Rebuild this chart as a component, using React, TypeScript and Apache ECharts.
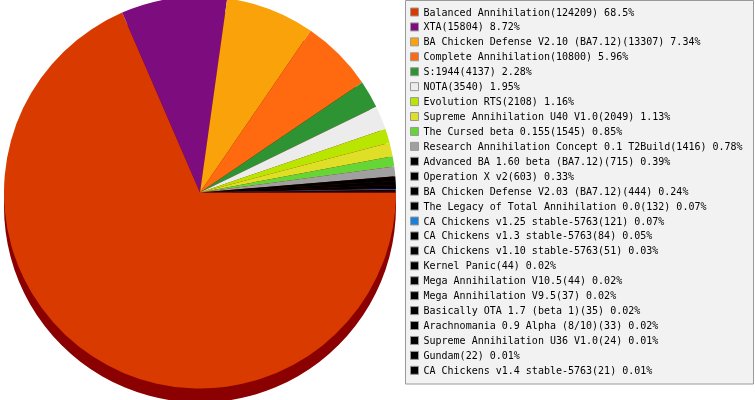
import React, { useEffect, useRef } from "react";
import * as echarts from "echarts";

const categories = [
  "Balanced Annihilation",
  "XTA",
  "BA Chicken Defense V2.10 (BA7.12)",
  "Complete Annihilation",
  "S:1944",
  "NOTA",
  "Evolution RTS",
  "Supreme Annihilation U40 V1.0",
  "The Cursed beta 0.155",
  "Research Annihilation Concept 0.1 T2Build",
  "Advanced BA 1.60 beta (BA7.12)",
  "Operation X v2",
  "BA Chicken Defense V2.03 (BA7.12)",
  "The Legacy of Total Annihilation 0.0",
  "CA Chickens v1.25 stable-5763",
  "CA Chickens v1.3 stable-5763",
  "CA Chickens v1.10 stable-5763",
  "Kernel Panic",
  "Mega Annihilation V10.5",
  "Mega Annihilation V9.5",
  "Basically OTA 1.7 (beta 1)",
  "Arachnomania 0.9 Alpha (8/10)",
  "Supreme Annihilation U36 V1.0",
  "Gundam",
  "CA Chickens v1.4 stable-5763",
];

const values = [
  124209, 15804, 13307, 10800, 4137, 3540, 2108, 2049, 1545, 1416, 715, 603,
  444, 132, 121, 84, 51, 44, 44, 37, 35, 33, 24, 22, 21,
];

const colors = [
  "#d93a00", "#7d0c7e", "#f9a20a", "#ff6a10", "#2e9332", "#ececec",
  "#b8e600", "#dfdf28", "#66d636", "#a0a0a0", "#000000", "#000000",
  "#000000", "#000000", "#1a7fd6", "#000000", "#000000", "#000000",
  "#000000", "#000000", "#000000", "#000000", "#000000", "#000000",
  "#000000",
];

export default function App() {
  const ref = useRef<HTMLDivElement>(null);
  useEffect(() => {
    if (!ref.current) return;
    const chart = echarts.init(ref.current, undefined, { renderer: "svg" });
    const total = values.reduce((a, b) => a + b, 0);
    const labelMap: Record<string, string> = {};
    categories.forEach((c, i) => {
      const p = (values[i] / total) * 100;
      const ps = p >= 10 ? p.toFixed(1) : p.toFixed(2);
      labelMap[c] = `${c}(${values[i]}) ${ps}%`;
    });
    chart.setOption({
      animation: false,
      graphic: [
        {
          type: "rect",
          z: 0,
          shape: { x: 405.5, y: 0.5, width: 348, height: 383.5 },
          style: { fill: "#f2f2f2", stroke: "#9a9a9a", lineWidth: 1 },
        },
      ],
      legend: {
        orient: "vertical",
        left: 410,
        top: 7,
        padding: 0,
        itemWidth: 8,
        itemHeight: 8,
        itemGap: 4.93,
        icon: "rect",
        selectedMode: false,
        itemStyle: { borderColor: "#999999", borderWidth: 1 },
        textStyle: {
          fontFamily: "DejaVu Sans Mono",
          fontSize: 10,
          lineHeight: 10,
          color: "#000",
        },
        data: categories,
        formatter: (name: string) => labelMap[name] ?? name,
      },
      series: [
        {
          type: "pie",
          name: "shadow",
          silent: true,
          z: 1,
          center: [200, 206.5],
          radius: [0, 196],
          label: { show: false },
          labelLine: { show: false },
          emphasis: { disabled: true },
          itemStyle: { borderWidth: 0, color: "#8b0000" },
          data: [{ name: "__shadow__", value: 1 }],
        },
        {
          type: "pie",
          name: "mods",
          z: 2,
          center: [200, 192.5],
          radius: [0, 196],
          startAngle: 0,
          clockwise: true,
          minAngle: 0,
          avoidLabelOverlap: false,
          label: { show: false },
          labelLine: { show: false },
          emphasis: { disabled: true },
          itemStyle: { borderWidth: 0 },
          data: categories.map((c, i) => ({
            name: c,
            value: values[i],
            itemStyle: { color: colors[i] },
          })),
        },
      ],
    });
    return () => chart.dispose();
  }, []);
  return (
    <div
      ref={ref}
      style={{ position: "fixed", left: 0, top: 0, width: 755, height: 400 }}
    />
  );
}
